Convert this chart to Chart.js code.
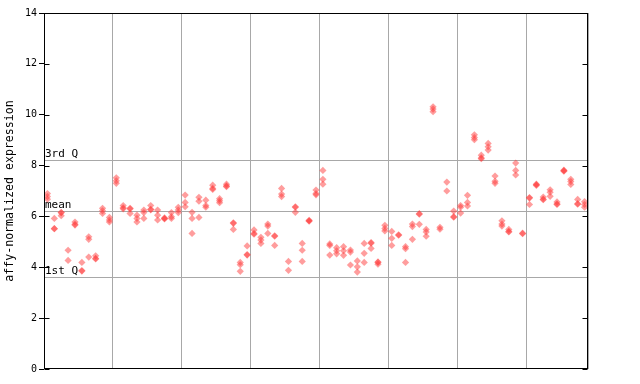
<!DOCTYPE html>
<html>
<head>
<meta charset="utf-8">
<script src="https://cdn.jsdelivr.net/npm/chart.js@4/dist/chart.umd.min.js"></script>
<style>
  html, body { margin: 0; padding: 0; background: #fff; }
  #wrap { width: 640px; height: 384px; }
</style>
</head>
<body>
<div id="wrap"><canvas id="chart"></canvas></div>
<script>
// Replicate values per sample (79 samples, ordered left to right)
const rep1 = [6.9, 5.92, 6.15, 4.67, 5.78, 4.19, 5.2, 4.45, 6.32, 5.96,
  7.52, 6.43, 6.32, 6.05, 6.25, 6.43, 6.25, 5.94, 6.15, 6.36,
  6.84, 6.16, 6.75, 6.64, 7.23, 6.7, 7.27, 5.75, 4.19, 4.84,
  5.47, 5.18, 5.7, 5.24, 7.1, 4.23, 6.38, 4.94, 5.85, 7.04,
  7.81, 4.92, 4.77, 4.81, 4.68, 4.25, 4.94, 4.97, 4.21, 5.65,
  5.41, 5.28, 4.81, 5.7, 6.11, 5.49, 10.31, 5.57, 7.35, 6.21,
  6.43, 6.83, 9.21, 8.41, 8.87, 7.59, 5.83, 5.49, 8.1, 5.34,
  6.74, 7.27, 6.76, 7.05, 6.57, 7.82, 7.46, 6.67, 6.58];
const rep2 = [6.78, 5.52, 6.15, 4.27, 5.69, 3.87, 5.1, 4.35, 6.22, 5.86,
  7.4, 6.34, 6.3, 5.92, 6.15, 6.28, 6.05, 5.92, 5.99, 6.25,
  6.55, 5.92, 6.6, 6.43, 7.1, 6.62, 7.2, 5.73, 4.1, 4.5,
  5.33, 5.07, 5.62, 5.22, 6.88, 3.88, 6.36, 4.67, 5.83, 6.9,
  7.46, 4.86, 4.65, 4.65, 4.6, 4.02, 4.55, 4.95, 4.19, 5.53,
  5.14, 5.26, 4.73, 5.6, 6.09, 5.39, 10.22, 5.5, 7.0, 5.99,
  6.36, 6.55, 9.1, 8.3, 8.74, 7.38, 5.7, 5.41, 7.81, 5.32,
  6.72, 7.25, 6.68, 6.95, 6.49, 7.8, 7.37, 6.5, 6.47];
const rep3 = [6.68, 5.52, 6.03, null, 5.66, 3.85, 4.4, 4.33, 6.12, 5.78,
  7.3, 6.3, 6.12, 5.78, 5.92, 6.26, 5.86, 5.9, 5.92, 6.15,
  6.38, 5.33, 5.96, 6.36, 7.06, 6.54, 7.17, 5.49, 3.84, 4.48,
  5.3, 4.94, 5.33, 4.86, 6.78, null, 6.16, 4.23, 5.81, 6.85,
  7.27, 4.48, 4.53, 4.47, 4.09, 3.81, 4.19, 4.74, 4.12, 5.43,
  4.86, null, 4.19, 5.1, 5.69, 5.22, 10.12, null, null, 5.97,
  6.13, 6.41, 9.02, 8.27, 8.61, 7.3, 5.62, 5.39, 7.63, null,
  6.47, 7.22, 6.66, 6.79, 6.47, 7.78, 7.26, 6.48, 6.36];

// Summary lines
const q1Value = 3.62;
const meanValue = 6.21;
const q3Value = 8.21;
const refLines = [
  { value: q3Value, label: '3rd Q' },
  { value: meanValue, label: 'mean' },
  { value: q1Value, label: '1st Q' }
];

const yTicks = [0, 2, 4, 6, 8, 10, 12, 14];
const sampleCount = rep1.length;
const xGridEvery = 10; // a grid line every 10 samples

const mono = "'DejaVu Sans Mono', monospace";
const pointFill = 'rgba(255, 60, 60, 0.5)';

function toPoints(arr) {
  return arr.map((v, i) => v == null ? null : { x: i + 0.5, y: v }).filter(p => p);
}

function makeDataset(arr) {
  return {
    data: toPoints(arr),
    pointStyle: 'rectRot',
    pointRadius: 3.6,
    pointHoverRadius: 3.6,
    backgroundColor: pointFill,
    borderWidth: 0,
    showLine: false
  };
}

// reference lines + labels, inner ticks and box
const decorations = {
  id: 'decorations',
  beforeDatasetsDraw(chart) {
    const { ctx, chartArea, scales } = chart;
    ctx.save();
    ctx.strokeStyle = '#a8a8a8';
    ctx.lineWidth = 1;
    ctx.font = '11px ' + mono;
    ctx.fillStyle = '#000';
    ctx.textBaseline = 'bottom';
    refLines.forEach(r => {
      const y = Math.round(scales.y.getPixelForValue(r.value)) + 0.5;
      ctx.beginPath();
      ctx.moveTo(chartArea.left, y);
      ctx.lineTo(chartArea.right, y);
      ctx.stroke();
      ctx.fillText(r.label, chartArea.left + 1, y - 0.5);
    });
    ctx.restore();
  },
  afterDraw(chart) {
    const { ctx, chartArea, scales } = chart;
    ctx.save();
    ctx.strokeStyle = '#000';
    ctx.lineWidth = 1;
    const l = Math.round(chartArea.left) + 0.5;
    const r = Math.round(chartArea.right) - 0.5;
    const t = Math.round(chartArea.top) + 0.5;
    const b = Math.round(chartArea.bottom) - 0.5;
    ctx.strokeRect(l, t, r - l, b - t);
    yTicks.forEach(v => {
      const y = Math.round(scales.y.getPixelForValue(v)) + 0.5;
      ctx.beginPath();
      ctx.moveTo(l, y);
      ctx.lineTo(l + 5, y);
      ctx.moveTo(r, y);
      ctx.lineTo(r - 5, y);
      ctx.stroke();
    });
    ctx.restore();
  }
};

new Chart(document.getElementById('chart'), {
  type: 'scatter',
  data: {
    datasets: [makeDataset(rep1), makeDataset(rep2), makeDataset(rep3)]
  },
  options: {
    responsive: true,
    maintainAspectRatio: false,
    animation: false,
    events: [],
    layout: { padding: { top: 13, right: 52, left: 0, bottom: 0 } },
    plugins: {
      legend: { display: false },
      tooltip: { enabled: false }
    },
    scales: {
      x: {
        type: 'linear',
        min: 0,
        max: sampleCount,
        afterBuildTicks(scale) {
          const ticks = [];
          for (let v = 0; v < sampleCount; v += xGridEvery) ticks.push({ value: v });
          ticks.push({ value: sampleCount });
          scale.ticks = ticks;
        },
        afterFit(scale) { scale.height = 15; },
        ticks: { display: false },
        grid: { color: '#a8a8a8', lineWidth: 1, drawTicks: false },
        border: { display: false }
      },
      y: {
        min: 0,
        max: 14,
        afterBuildTicks(scale) {
          scale.ticks = yTicks.map(v => ({ value: v }));
        },
        afterFit(scale) { scale.width = 44; },
        ticks: {
          color: '#000',
          padding: 2,
          font: { family: mono, size: 10 }
        },
        grid: { drawOnChartArea: false, tickLength: 5, color: '#000' },
        border: { display: false },
        title: {
          display: true,
          text: 'affy-normalized expression',
          color: '#000',
          font: { family: mono, size: 11.6 },
          padding: { top: 3, bottom: 0 }
        }
      }
    }
  },
  plugins: [decorations]
});
</script>
</body>
</html>
